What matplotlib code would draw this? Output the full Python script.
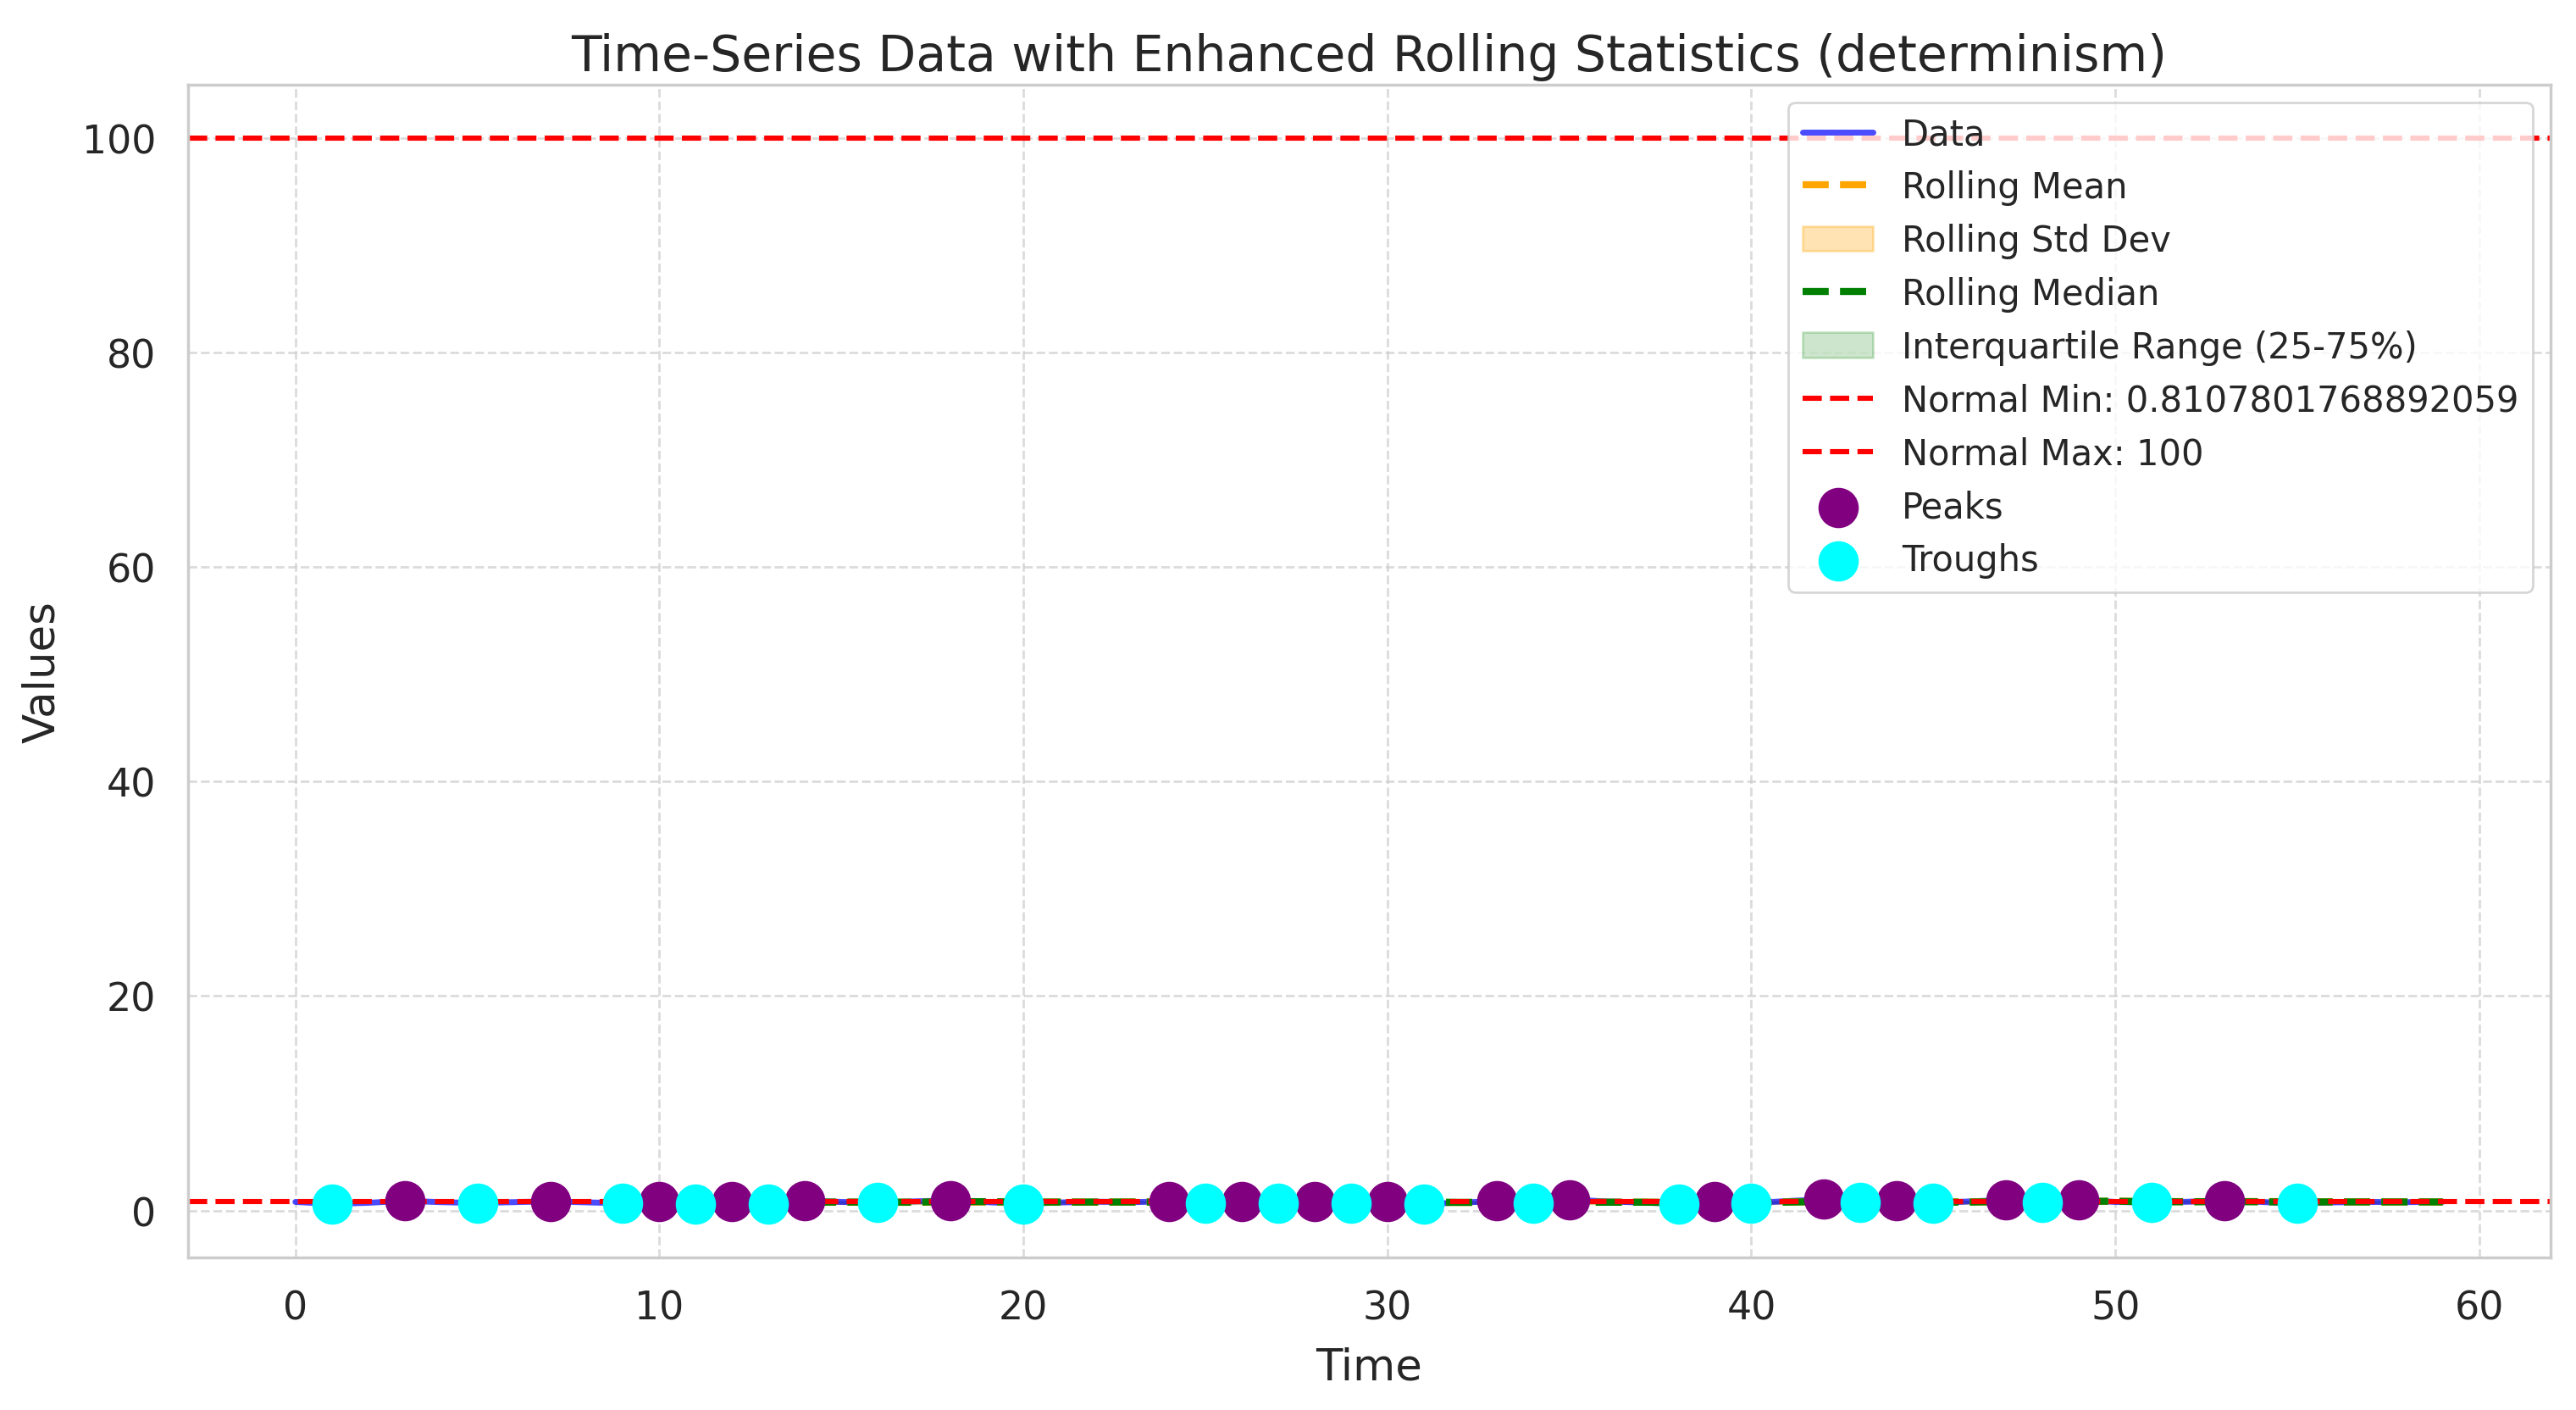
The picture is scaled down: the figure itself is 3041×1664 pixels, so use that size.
import numpy as np
import pandas as pd
import matplotlib
matplotlib.use("Agg")
import matplotlib.pyplot as plt
import seaborn as sns

# values (60 samples)
time = list(range(60))
values = [0.80, 0.62, 0.72, 0.90, 0.78, 0.70, 0.78, 0.86, 0.76, 0.68,
          0.86, 0.62, 0.85, 0.58, 0.92, 0.80, 0.72, 0.85, 0.95, 0.78,
          0.62, 0.75, 0.82, 0.78, 0.86, 0.70, 0.84, 0.68, 0.82, 0.66,
          0.80, 0.60, 0.74, 0.88, 0.68, 1.02, 0.85, 0.75, 0.62, 0.82,
          0.70, 0.88, 1.05, 0.72, 0.92, 0.70, 0.85, 0.98, 0.74, 1.00,
          0.80, 0.74, 0.82, 0.92, 0.80, 0.64, 0.76, 0.80, 0.78, 0.82]
peak_idx = [3, 7, 10, 12, 14, 18, 24, 26, 28, 30, 33, 35, 39, 42, 44, 47, 49, 53]
trough_idx = [1, 5, 9, 11, 13, 16, 20, 25, 27, 29, 31, 34, 38, 40, 43, 45, 48, 51, 55]
normal_min = 0.8107801768892059
normal_max = 100
window = 10

sns.set_theme(style="whitegrid")

s = pd.Series(values, index=time)
roll_mean = s.rolling(window).mean()
roll_std = s.rolling(window).std()
roll_median = s.rolling(window).median()
q25 = s.rolling(window).quantile(0.25)
q75 = s.rolling(window).quantile(0.75)

fig, ax = plt.subplots(figsize=(15.205, 8.325), dpi=200)
fig.subplots_adjust(left=0.073, right=0.990, top=0.9395, bottom=0.108)

ax.plot(time, values, color="blue", alpha=0.7, lw=2.5, label="Data")
ax.plot(time, roll_mean, color="orange", ls="--", lw=3, label="Rolling Mean")
ax.fill_between(time, roll_mean - roll_std, roll_mean + roll_std,
                color="orange", alpha=0.3, label="Rolling Std Dev")
ax.plot(time, roll_median, color="green", ls="--", lw=3, label="Rolling Median")
ax.fill_between(time, q25, q75, color="green", alpha=0.2,
                label="Interquartile Range (25-75%)")
ax.axhline(normal_min, color="red", ls="--", lw=2.2, label=f"Normal Min: {normal_min}")
ax.axhline(normal_max, color="red", ls="--", lw=2.2, label=f"Normal Max: {normal_max}")
ax.scatter(peak_idx, [values[i] for i in peak_idx], color="purple", s=260,
           zorder=5, label="Peaks")
ax.scatter(trough_idx, [values[i] for i in trough_idx], color="cyan", s=260,
           zorder=5, label="Troughs")

ax.set_title("Time-Series Data with Enhanced Rolling Statistics (determinism)", fontsize=21)
ax.set_xlabel("Time", fontsize=18.5, labelpad=8)
ax.set_ylabel("Values", fontsize=18.5, labelpad=8)
ax.tick_params(labelsize=16.5, pad=7.5)
ax.grid(True, ls="--", alpha=0.7)
ax.legend(loc="upper right", fontsize=15)

fig.savefig("out.png", dpi=200)
